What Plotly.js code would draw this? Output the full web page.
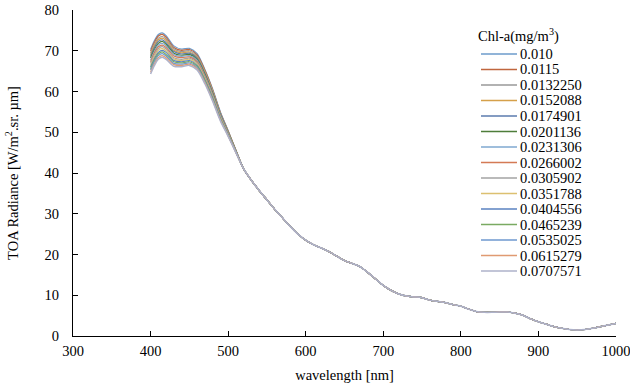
<!DOCTYPE html>
<html>
<head>
<meta charset="utf-8">
<script src="https://cdn.plot.ly/plotly-3.0.1.min.js"></script>
<style>html,body{margin:0;padding:0;background:#fff;}#chart{width:630px;height:387px;}</style>
</head>
<body>
<div id="chart"></div>
<script>
// Chl-a concentrations (legend labels)
const chlLabels = ["0.010","0.0115","0.0132250","0.0152088","0.0174901","0.0201136","0.0231306","0.0266002","0.0305902","0.0351788","0.0404556","0.0465239","0.0535025","0.0615279","0.0707571"];

// wavelengths where the curves differ (blue region)
const blueWl = [400,405,410,415,420,430,440,450,460,470,480,490,500,510];

// per-series radiance in the blue region
const s01 = [70.3,72.5,74.0,74.4,73.7,71.2,70.4,70.6,69.3,65.4,60.6,55.0,50.4,45.6];
const s02 = [69.9,72.1,73.6,74.0,73.3,70.8,70.1,70.3,69.0,65.2,60.4,54.8,50.3,45.6];
const s03 = [69.4,71.6,73.1,73.5,72.9,70.5,69.8,70.0,68.7,64.9,60.2,54.7,50.2,45.5];
const s04 = [69.0,71.2,72.7,73.1,72.5,70.1,69.5,69.7,68.4,64.7,60.0,54.5,50.1,45.5];
const s05 = [68.6,70.8,72.3,72.7,72.0,69.8,69.2,69.4,68.2,64.4,59.7,54.4,50.0,45.4];
const s06 = [68.2,70.3,71.8,72.3,71.6,69.4,68.9,69.1,67.9,64.2,59.5,54.2,49.9,45.4];
const s07 = [67.7,69.9,71.4,71.8,71.2,69.1,68.6,68.8,67.6,63.9,59.3,54.1,49.8,45.3];
const s08 = [67.3,69.5,71.0,71.4,70.8,68.7,68.3,68.5,67.3,63.7,59.1,53.9,49.7,45.3];
const s09 = [66.9,69.0,70.5,71.0,70.4,68.3,67.9,68.2,67.0,63.4,58.9,53.7,49.6,45.3];
const s10 = [66.4,68.6,70.1,70.5,70.0,68.0,67.6,67.9,66.7,63.2,58.7,53.6,49.5,45.2];
const s11 = [66.0,68.1,69.6,70.1,69.6,67.6,67.3,67.6,66.4,62.9,58.5,53.4,49.4,45.2];
const s12 = [65.6,67.7,69.2,69.7,69.1,67.3,67.0,67.3,66.2,62.7,58.2,53.3,49.3,45.1];
const s13 = [65.2,67.3,68.8,69.3,68.7,66.9,66.7,67.0,65.9,62.4,58.0,53.1,49.2,45.1];
const s14 = [64.7,66.8,68.3,68.8,68.3,66.6,66.4,66.7,65.6,62.2,57.8,53.0,49.1,45.0];
const s15 = [64.3,66.4,67.9,68.4,67.9,66.2,66.1,66.4,65.3,61.9,57.6,52.8,49.0,45.0];

// wavelengths where all curves coincide, and the common radiance there
const tailWl = [520,530,540,550,560,570,580,590,600,610,620,630,640,650,660,670,680,690,700,710,720,730,740,750,760,770,780,790,800,810,820,830,840,850,860,870,880,890,900,910,920,930,940,950,960,970,980,990,1000];
const tailVal = [41.0,38.2,35.7,33.4,31.1,29.0,26.9,25.0,23.5,22.4,21.6,20.7,19.6,18.5,17.8,17.0,15.6,14.0,12.4,11.2,10.3,9.8,9.6,9.4,8.8,8.5,8.2,7.7,7.3,6.6,6.0,5.8,5.8,5.9,5.9,5.6,5.1,4.2,3.5,2.9,2.3,1.9,1.6,1.5,1.6,1.9,2.3,2.7,3.1];

const seriesBlue = [s01,s02,s03,s04,s05,s06,s07,s08,s09,s10,s11,s12,s13,s14,s15];
const colors = ["#6C9BCB","#C0663E","#999999","#D5A04A","#5B7BAE","#4E7D3A","#7FA8D0","#D47A55","#A3A3A3","#DCC070","#5A82C0","#7AAA62","#6E99CF","#E09A72","#AEB2CA"];

const FONT = "Liberation Serif, Times New Roman, serif";
const W = 630, H = 387, L = 73, R = 14, T = 10, B = 51;
const pw = W - L - R, ph = H - T - B;
const px = x => (x - L) / pw;
const py = y => (H - B - y) / ph;

const xs = blueWl.concat(tailWl);
const traces = seriesBlue.map((s, i) => ({
  type: "scatter", mode: "lines",
  x: xs, y: s.concat(tailVal),
  name: chlLabels[i],
  line: {color: colors[i], width: i === 14 ? 1.5 : 1.2, shape: "spline", smoothing: 0.8},
  hoverinfo: "skip"
}));

// manual legend (compact spacing)
const shapes = [], annotations = [];
annotations.push({xref:"paper", yref:"paper", x: px(476), y: py(35), xanchor:"left", yanchor:"middle",
  text: "Chl-a(mg/m<sup>3</sup>)", showarrow:false, font:{family:FONT, size:14.5, color:"#000"}});
chlLabels.forEach((lab, i) => {
  const yy = 54 + 15.5 * i;
  shapes.push({type:"line", xref:"paper", yref:"paper", x0: px(481), x1: px(517), y0: py(yy), y1: py(yy),
    line:{color: colors[i], width: 1.5}});
  annotations.push({xref:"paper", yref:"paper", x: px(518), y: py(yy), xanchor:"left", yanchor:"middle",
    text: lab, showarrow:false, font:{family:FONT, size:14.5, color:"#000"}});
});

const layout = {
  width: W, height: H,
  margin: {l: L, r: R, t: T, b: B, pad: 0},
  paper_bgcolor: "#fff", plot_bgcolor: "#fff",
  showlegend: false,
  font: {family: FONT, size: 14.5, color: "#000"},
  xaxis: {
    range: [300, 1000], tickvals: [300,400,500,600,700,800,900,1000],
    showgrid: false, zeroline: false, showline: true, linecolor: "#000", linewidth: 1,
    ticks: "inside", ticklen: 5, tickcolor: "#000", ticklabeloverflow: "allow", ticklabelstandoff: 2,
    tickfont: {family: FONT, size: 14.5, color: "#000"},
    title: {text: "wavelength [nm]", font: {family: FONT, size: 14.5, color: "#000"}, standoff: 11}
  },
  yaxis: {
    range: [0, 80], tickvals: [0,10,20,30,40,50,60,70,80],
    showgrid: false, zeroline: false, showline: true, linecolor: "#000", linewidth: 1,
    ticks: "inside", ticklen: 5, tickcolor: "#000", ticklabelstandoff: 10,
    tickfont: {family: FONT, size: 14.5, color: "#000"},
    title: {text: "TOA Radiance [W/m<sup>2</sup>.sr. µm]", font: {family: FONT, size: 14.5, color: "#000"}, standoff: 22}
  },
  shapes: shapes,
  annotations: annotations
};

Plotly.newPlot("chart", traces, layout, {displayModeBar: false, staticPlot: true});
</script>
</body>
</html>
